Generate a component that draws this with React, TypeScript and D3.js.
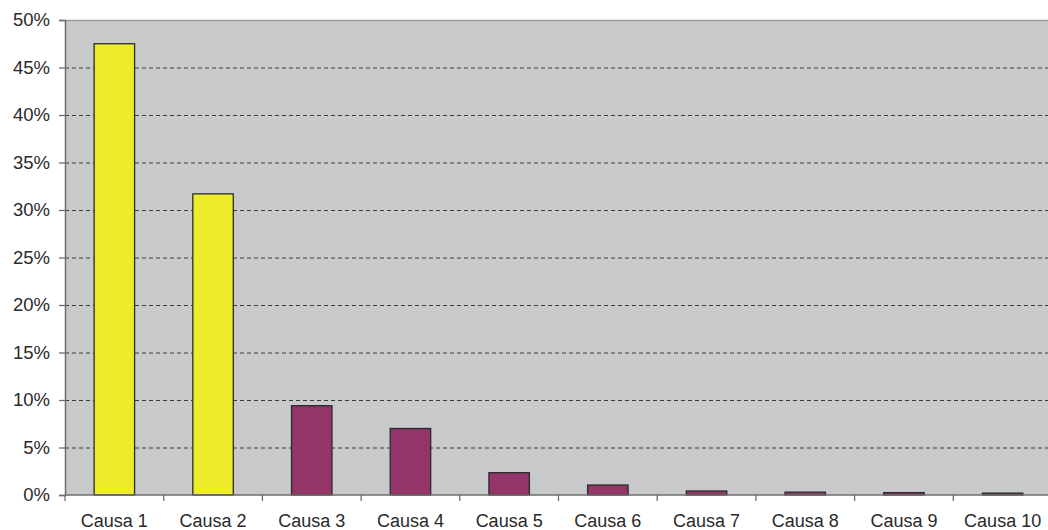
import React, { useRef, useEffect } from 'react';
import * as d3 from 'd3';

const categories = ['Causa 1', 'Causa 2', 'Causa 3', 'Causa 4', 'Causa 5', 'Causa 6', 'Causa 7', 'Causa 8', 'Causa 9', 'Causa 10'];
const shares = [47.5, 31.7, 9.4, 7.0, 2.35, 1.05, 0.42, 0.3, 0.25, 0.2];
const yTicks = [0, 5, 10, 15, 20, 25, 30, 35, 40, 45, 50];

const width = 1048;
const height = 530;
const margin = { top: 20, right: -4, bottom: 35, left: 65 };

const App: React.FC = () => {
  const ref = useRef<SVGSVGElement | null>(null);

  useEffect(() => {
    if (!ref.current) return;
    const svg = d3.select(ref.current);
    svg.selectAll('*').remove();

    const x = d3.scaleBand<string>()
      .domain(categories)
      .range([margin.left, width - margin.right])
      .paddingInner(0.59)
      .paddingOuter(0.295);

    const y = d3.scaleLinear()
      .domain([0, 50])
      .range([height - margin.bottom, margin.top]);

    // plot background
    svg.append('rect')
      .attr('x', margin.left)
      .attr('y', margin.top)
      .attr('width', width - margin.right - margin.left)
      .attr('height', y(0) - margin.top)
      .attr('fill', '#c8c9cb');

    // gridlines
    svg.append('g')
      .selectAll('line')
      .data(yTicks.filter(t => t > 0 && t < 50))
      .enter()
      .append('line')
      .attr('x1', margin.left)
      .attr('x2', width)
      .attr('y1', d => y(d) + 0.5)
      .attr('y2', d => y(d) + 0.5)
      .attr('stroke', '#3a3a3a')
      .attr('stroke-width', 1)
      .attr('stroke-dasharray', '4,3');

    // top border
    svg.append('line')
      .attr('x1', margin.left)
      .attr('x2', width)
      .attr('y1', y(50) + 0.5)
      .attr('y2', y(50) + 0.5)
      .attr('stroke', '#9a9a9a')
      .attr('stroke-width', 1.5);

    // bars
    svg.append('g')
      .selectAll('rect')
      .data(shares)
      .enter()
      .append('rect')
      .attr('x', (_, i) => x(categories[i]) as number)
      .attr('y', d => y(d))
      .attr('width', x.bandwidth())
      .attr('height', d => y(0) - y(d))
      .attr('fill', (_, i) => (i < 2 ? '#eeea2c' : '#94356a'))
      .attr('stroke', '#2b2b2b')
      .attr('stroke-width', 1.3);

    // y axis
    const yAxis = d3.axisLeft(y)
      .tickValues(yTicks)
      .tickFormat(d => `${d}%`)
      .tickSize(6)
      .tickPadding(9);

    const yg = svg.append('g')
      .attr('transform', `translate(${margin.left},0)`)
      .call(yAxis);
    yg.select('.domain').attr('stroke', '#6e6e6e').attr('stroke-width', 1.5);
    yg.selectAll('.tick line').attr('stroke', '#6e6e6e').attr('stroke-width', 1.3);
    yg.selectAll('.tick text')
      .attr('fill', '#2a2a2a')
      .style('font-family', '"Liberation Sans", Arial, sans-serif')
      .style('font-size', '18.5px');

    // x axis
    const step = x.step();
    const boundaries = categories.map((_, i) => margin.left + i * step);
    svg.append('line')
      .attr('x1', margin.left)
      .attr('x2', width)
      .attr('y1', y(0))
      .attr('y2', y(0))
      .attr('stroke', '#6e6e6e')
      .attr('stroke-width', 1.5);
    svg.append('g')
      .selectAll('line')
      .data(boundaries)
      .enter()
      .append('line')
      .attr('x1', d => d)
      .attr('x2', d => d)
      .attr('y1', y(0))
      .attr('y2', y(0) + 6)
      .attr('stroke', '#6e6e6e')
      .attr('stroke-width', 1.3);

    svg.append('g')
      .selectAll('text')
      .data(categories)
      .enter()
      .append('text')
      .attr('x', d => (x(d) as number) + x.bandwidth() / 2)
      .attr('y', height - 3)
      .attr('text-anchor', 'middle')
      .attr('fill', '#2a2a2a')
      .style('font-family', '"Liberation Sans", Arial, sans-serif')
      .style('font-size', '18px')
      .text(d => d);
  }, []);

  return (
    <svg
      ref={ref}
      width={width}
      height={height}
      style={{ position: 'absolute', left: 0, top: 0, background: '#fff' }}
    />
  );
};

export default App;
